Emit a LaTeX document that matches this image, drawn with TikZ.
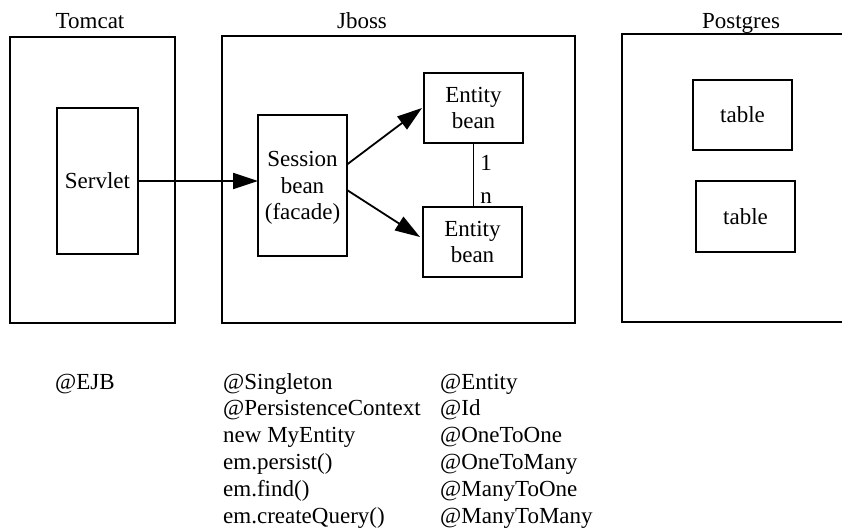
\documentclass[tikz,border=0pt]{standalone}
\usepackage{fontspec}
\setmainfont{Liberation Serif}
\usetikzlibrary{arrows.meta}
\begin{document}
\begin{tikzpicture}[x=1pt,y=-1pt,
  font=\fontsize{23}{26.8}\selectfont,
  box/.style={draw, line width=1.9pt, inner sep=0pt, outer sep=0pt, align=center},
  arr/.style={line width=1.8pt, -{Triangle[length=25pt,width=16pt]}},
  conn/.style={line width=1.8pt},
  lbl/.style={anchor=base, inner sep=0pt},
  code/.style={anchor=base west, inner sep=0pt}]
\useasboundingbox (0,0) rectangle (842,530);
\clip (0,0) rectangle (842,530);

% containers
\node[box, minimum width=165pt, minimum height=286pt] (tomcat) at (92.5,180) {};
\node[box, minimum width=353pt, minimum height=287pt] (jboss) at (398.5,179.5) {};
\node[box, minimum width=238pt, minimum height=288pt] (postgres) at (741,178) {};

\node[lbl] (tomcatlbl) at (90,28) {Tomcat};
\node[lbl] (jbosslbl) at (362,28) {Jboss};
\node[lbl] (postgreslbl) at (741,28) {Postgres};

% inner boxes
\node[box, minimum width=81pt, minimum height=146pt] (servlet) at (97.5,181) {Servlet};
\node[box, minimum width=89pt, minimum height=141pt] (session) at (302.5,185.5) {};
\node[align=center, inner sep=0pt] (sessiontext) at ([yshift=-2.5pt]session.center) {Session\\bean\\(facade)};
\node[box, minimum width=99pt, minimum height=70pt] (entity1) at (473.5,108) {Entity\\bean};
\node[box, minimum width=99pt, minimum height=70pt] (entity2) at (472.5,242) {Entity\\bean};
\node[box, minimum width=99pt, minimum height=70pt] (table1) at (742.5,115) {table};
\node[box, minimum width=99pt, minimum height=71pt] (table2) at (745.5,216.5) {table};

% connectors
\draw[arr] (servlet.east) -- (servlet.east -| session.west);
\draw[arr] ([yshift=21pt]session.east) -- ([xshift=-2pt]entity1.west);
\draw[arr] ([yshift=-4.5pt]session.east) -- ([xshift=-3pt,yshift=5pt]entity2.west);
\draw[conn] (entity1.south) -- (entity1.south |- entity2.north);
\node[lbl] (one) at (486,170) {1};
\node[lbl] (many) at (486,203) {n};

% annotations
\node[code] (ejb) at (55,389) {@EJB};
\foreach \t [count=\i from 0] in {@Singleton, @PersistenceContext, new MyEntity, em.persist(), em.find(), em.createQuery()}
  \node[code] (s\i) at (223,389+26.8*\i) {\t};
\foreach \t [count=\i from 0] in {@Entity, @Id, @OneToOne, @OneToMany, @ManyToOne, @ManyToMany}
  \node[code] (e\i) at (440,389+26.8*\i) {\t};
\end{tikzpicture}
\end{document}
